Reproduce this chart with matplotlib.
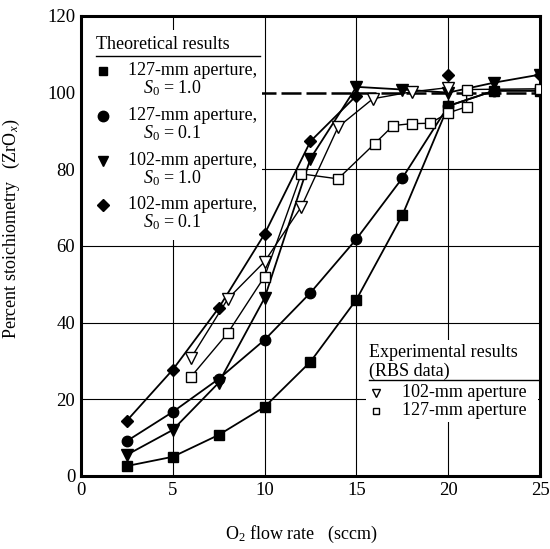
import numpy as np
import matplotlib
matplotlib.use("Agg")
import matplotlib.pyplot as plt
from matplotlib.lines import Line2D
from matplotlib.patches import Rectangle

# ----------------------------------------------------------
# Data
# ----------------------------------------------------------

flow = [2.5, 5, 7.5, 10, 12.5, 15, 17.5, 20, 22.5, 25]

th_127_s10 = [2.6, 5.0, 10.7, 18.0, 29.8, 46.0, 68.0, 96.5, 100.5, 100.5]
th_127_s01 = [9.1, 16.7, 25.3, 35.5, 47.8, 61.8, 77.7, 96.5, 100.5, 100.5]
th_102_s10 = [5.5, 12.0, 24.3, 46.4, 82.8, 101.5, 100.8, 100.0, 102.6, 104.7]

th_102_s01_x = [2.5, 5, 7.5, 10, 12.5, 15]
th_102_s01 = [14.4, 27.7, 43.8, 63.1, 87.3, 99.2]
th_102_s01_extra_x = [20, 25]
th_102_s01_extra = [104.5, 104.7]

exp_102_x = [6, 8, 10, 12, 14, 15.9, 18, 20]
exp_102 = [30.8, 46.2, 55.9, 70.2, 91.0, 98.4, 100.2, 101.3]

exp_127_x = [6, 8, 10, 12, 14, 16, 17, 18, 19, 20, 21, 21, 25]
exp_127 = [25.9, 37.3, 52.0, 78.8, 77.5, 86.7, 91.4, 91.9, 92.0, 94.7, 96.3, 100.8, 101.0]

x_ticks = [0, 5, 10, 15, 20, 25]
y_ticks = [0, 20, 40, 60, 80, 100, 120]

theory_labels = [
    ("127-mm aperture,", "$S_0$ = 1.0", "s"),
    ("127-mm aperture,", "$S_0$ = 0.1", "o"),
    ("102-mm aperture,", "$S_0$ = 1.0", "v"),
    ("102-mm aperture,", "$S_0$ = 0.1", "D"),
]

# ----------------------------------------------------------
# Style
# ----------------------------------------------------------

plt.rcParams["font.family"] = ["Liberation Serif", "DejaVu Serif"]
plt.rcParams["mathtext.fontset"] = "custom"
plt.rcParams["mathtext.rm"] = "Liberation Serif"
plt.rcParams["mathtext.it"] = "Liberation Serif:italic"

FS = 13
LW = 1.3

fig = plt.figure(figsize=(5.5, 5.49), dpi=100)
ax = fig.add_axes([0.147, 0.133, 0.835, 0.838])

ax.set_xlim(0, 25)
ax.set_ylim(0, 120)
ax.set_xticks(x_ticks)
ax.set_yticks(y_ticks)
ax.tick_params(labelsize=FS + 0.5, length=0, pad=4)
for spine in ax.spines.values():
    spine.set_linewidth(2.2)

# grid
for x in x_ticks[1:-1]:
    ax.axvline(x, color="black", lw=0.8, zorder=0)
for y in y_ticks[1:-1]:
    if y == 100:
        ax.axhline(y, color="black", lw=1.8, ls=(0, (8, 2)), zorder=0)
    else:
        ax.axhline(y, color="black", lw=0.8, zorder=0)

# theoretical curves
ax.plot(flow, th_127_s10, color="black", lw=LW, marker="s", ms=6.5, zorder=3)
ax.plot(flow, th_127_s01, color="black", lw=LW, marker="o", ms=7.5, zorder=3)
ax.plot(flow, th_102_s10, color="black", lw=LW, marker="v", ms=8, zorder=3)
ax.plot(th_102_s01_x, th_102_s01, color="black", lw=LW, marker="D", ms=6.5, zorder=3)
ax.plot(th_102_s01_extra_x, th_102_s01_extra, color="black", lw=0,
        marker="D", ms=6.5, zorder=3)

# experimental data
ax.plot(exp_102_x, exp_102, color="black", lw=1.0, marker="v", ms=8,
        mfc="white", mew=1.0, zorder=4)
ax.plot(exp_127_x, exp_127, color="black", lw=1.0, marker="s", ms=6.5,
        mfc="white", mew=1.0, zorder=4)


# ----------------------------------------------------------
# Hand-built legends (axes-fraction coordinates)
# ----------------------------------------------------------

def px(x_pix, y_pix):
    return (x_pix - 81) / 459, (476 - y_pix) / 460


tr = ax.transAxes

# white block behind theoretical legend
x0, y0 = px(83, 240)
x1, y1 = px(262, 30)
ax.add_patch(Rectangle((x0, y0), x1 - x0, y1 - y0, transform=tr,
                       facecolor="white", edgecolor="none", zorder=2))

tx, ty = px(96, 45)
ax.text(tx, ty, "Theoretical results", transform=tr, fontsize=FS,
        ha="left", va="center", zorder=5)
ax.add_line(Line2D([px(96, 0)[0], px(260, 0)[0]], [px(0, 56)[1]] * 2,
                   transform=tr, color="black", lw=1.0, zorder=5))

row_y = [71, 116, 161, 205]
for (line1, line2, mk), yp in zip(theory_labels, row_y):
    mx, my = px(103, yp)
    ax.plot([mx], [my], transform=tr, marker=mk, color="black", lw=0,
            ms=6 if mk in "sD" else 7.5, zorder=5, clip_on=False)
    lx, ly = px(128, yp)
    ax.text(lx, ly, line1, transform=tr, fontsize=FS, ha="left",
            va="center", zorder=5)
    sx, sy = px(143, yp + 17)
    ax.text(sx, sy, line2, transform=tr, fontsize=FS, ha="left",
            va="center", zorder=5)

# experimental legend
x0, y0 = px(366, 422)
x1, y1 = px(538, 340)
ax.add_patch(Rectangle((x0, y0), x1 - x0, y1 - y0, transform=tr,
                       facecolor="white", edgecolor="none", zorder=2))
ex, ey = px(369, 353)
ax.text(ex, ey, "Experimental results", transform=tr, fontsize=FS,
        ha="left", va="center", zorder=5)
ex, ey = px(369, 371)
ax.text(ex, ey, "(RBS data)", transform=tr, fontsize=FS,
        ha="left", va="center", zorder=5)
ax.add_line(Line2D([px(369, 0)[0], px(538, 0)[0]], [px(0, 380)[1]] * 2,
                   transform=tr, color="black", lw=1.0, zorder=5))

for label, mk, yp in [("102-mm aperture", "v", 393), ("127-mm aperture", "s", 411)]:
    mx, my = px(376, yp)
    ax.plot([mx], [my], transform=tr, marker=mk, color="black", mfc="white",
            mew=1.0, lw=0, ms=6 if mk == "v" else 5, zorder=5)
    lx, ly = px(402, yp)
    ax.text(lx, ly, label, transform=tr, fontsize=FS, ha="left",
            va="center", zorder=5)

# axis labels
ax.set_xlabel("O$_2$ flow rate   (sccm)", fontsize=FS)
ax.xaxis.set_label_coords(0.48, -0.104)
ax.set_ylabel("Percent stoichiometry   (ZrO$_x$)", fontsize=FS)
ax.yaxis.set_label_coords(-0.128, 0.537)

fig.savefig("out.png", dpi=100)
